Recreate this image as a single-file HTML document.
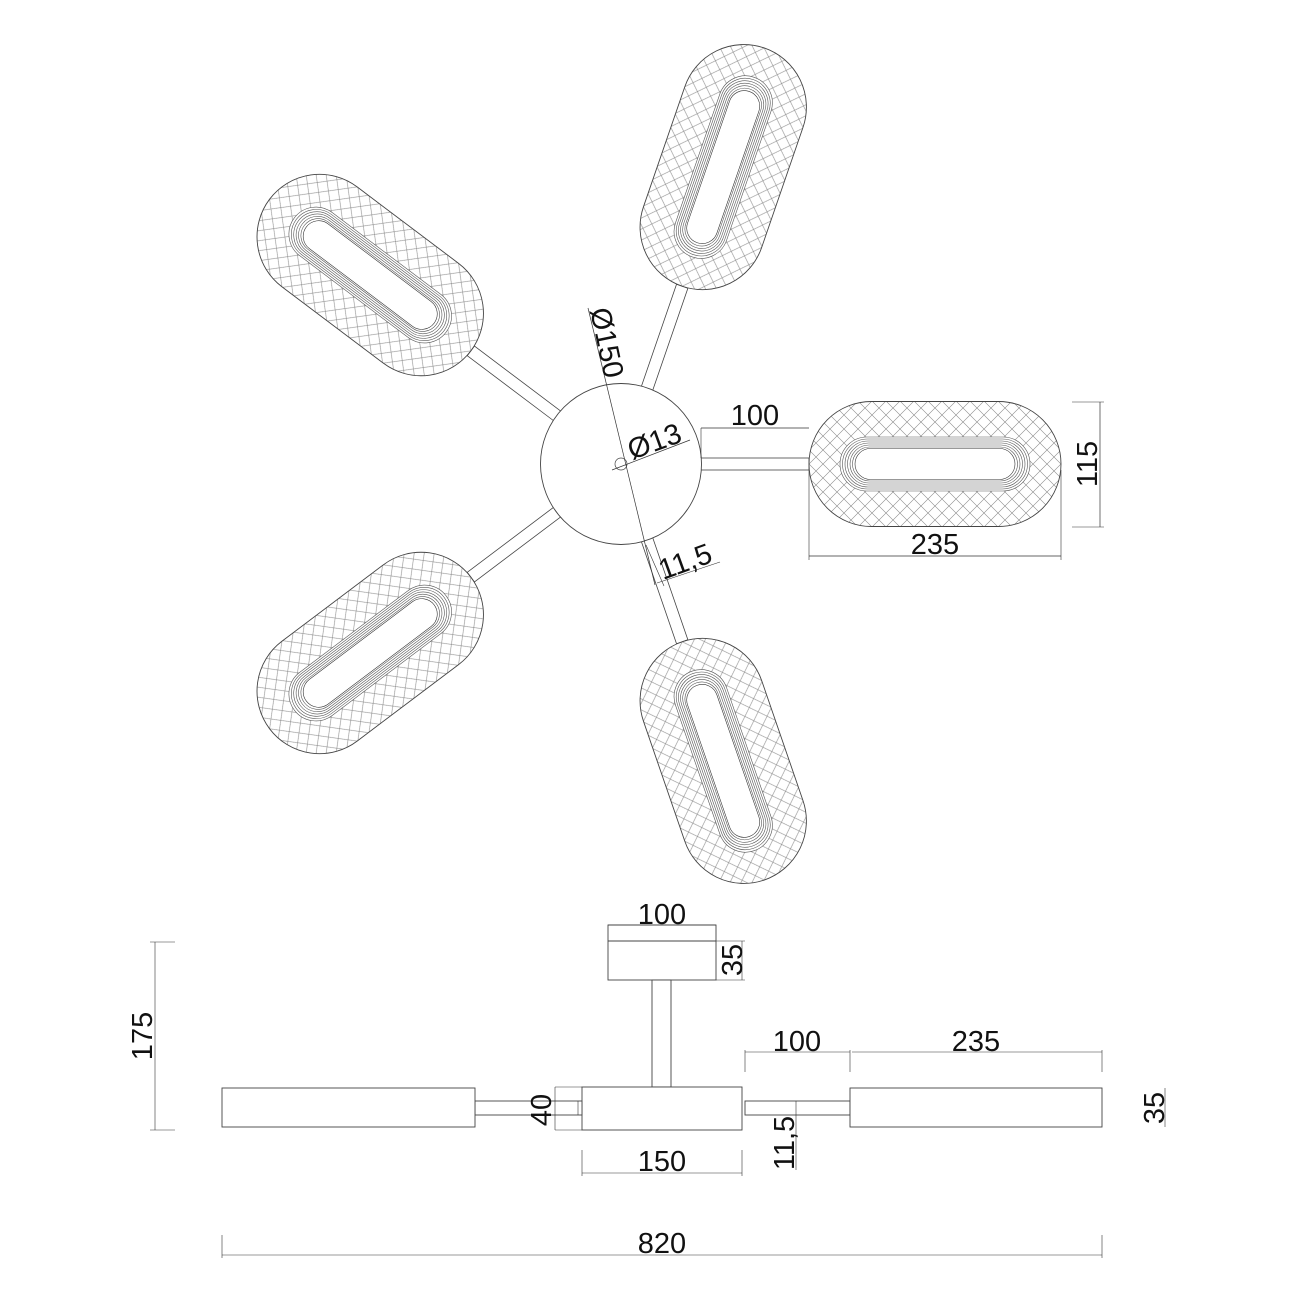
<!DOCTYPE html>
<html><head><meta charset="utf-8"><style>
html,body{margin:0;padding:0;background:#fff;}
svg{display:block;}
text{font-family:"Liberation Sans",sans-serif;font-size:29px;fill:#111;}
</style></head><body>
<svg width="1300" height="1300" viewBox="0 0 1300 1300" xmlns="http://www.w3.org/2000/svg">
<defs>
<pattern id="hatch" patternUnits="userSpaceOnUse" width="14" height="14">
<path d="M0,0 L14,14 M14,0 L0,14" stroke="#888" stroke-width="0.6" fill="none"/>
</pattern>
<g id="shade">
<rect x="-126" y="-62.5" width="252" height="125" rx="62.5" fill="url(#hatch)" stroke="#444" stroke-width="0.9"/>
<rect x="-95" y="-27" width="190" height="54" rx="27" fill="#fff" stroke="none"/>
<g fill="none" stroke="#555" stroke-width="0.6">
<rect x="-95" y="-27" width="190" height="54" rx="27"/>
<rect x="-92.5" y="-25" width="185" height="50" rx="25"/>
<rect x="-90" y="-23" width="180" height="46" rx="23"/>
<rect x="-87.5" y="-21" width="175" height="42" rx="21"/>
<rect x="-85" y="-19" width="170" height="38" rx="19"/>
<rect x="-82.5" y="-17" width="165" height="34" rx="17"/>
<rect x="-80" y="-15.5" width="160" height="31" rx="15.5" stroke="#333"/>
</g>
</g>
<g id="arm">
<rect x="79" y="-6" width="109" height="12" fill="#fff" stroke="#444" stroke-width="0.8"/>
<use href="#shade" x="314" y="0"/>
</g>
</defs>

<g transform="translate(621,464)">
<use href="#arm" transform="rotate(0)"/>
<use href="#arm" transform="rotate(-71)"/>
<use href="#arm" transform="rotate(-143)"/>
<use href="#arm" transform="rotate(143)"/>
<use href="#arm" transform="rotate(71)"/>
<circle cx="0" cy="0" r="80.5" fill="#fff" stroke="#444" stroke-width="0.9"/>
<circle cx="0" cy="0" r="6" fill="none" stroke="#444" stroke-width="0.7"/>
</g>
<line x1="588" y1="308" x2="655" y2="585" stroke="#333" stroke-width="0.7"/>
<text transform="translate(590,310) rotate(78)">Ø150</text>
<line x1="612" y1="470" x2="690" y2="440" stroke="#333" stroke-width="0.7"/>
<text transform="translate(632,460) rotate(-20)">Ø13</text>
<line x1="646" y1="545" x2="664" y2="586" stroke="#333" stroke-width="0.6"/>
<line x1="657" y1="583" x2="720" y2="562" stroke="#333" stroke-width="0.6"/>
<text transform="translate(663,580) rotate(-20)">11,5</text>
<line x1="701" y1="428" x2="809" y2="428" stroke="#333" stroke-width="0.7"/>
<line x1="701" y1="428" x2="701" y2="458" stroke="#333" stroke-width="0.6"/>
<text x="755" y="425" text-anchor="middle">100</text>
<line x1="809" y1="556" x2="1061" y2="556" stroke="#333" stroke-width="0.7"/>
<line x1="809" y1="470" x2="809" y2="560" stroke="#333" stroke-width="0.6"/>
<line x1="1061" y1="470" x2="1061" y2="560" stroke="#333" stroke-width="0.6"/>
<text x="935" y="554" text-anchor="middle">235</text>
<line x1="1100" y1="402" x2="1100" y2="527" stroke="#333" stroke-width="0.7"/>
<line x1="1072" y1="402" x2="1104" y2="402" stroke="#333" stroke-width="0.6"/>
<line x1="1072" y1="527" x2="1104" y2="527" stroke="#333" stroke-width="0.6"/>
<text transform="translate(1097,464) rotate(-90)" text-anchor="middle">115</text>

<g fill="#fff" stroke="#444" stroke-width="0.9">
<rect x="608" y="925" width="108" height="55"/>
<rect x="652" y="980" width="19" height="107"/>
<rect x="582" y="1087" width="160" height="43"/>
<rect x="475" y="1101" width="107" height="14"/>
<rect x="745" y="1101" width="105" height="14"/>
<rect x="222" y="1088" width="253" height="39"/>
<rect x="850" y="1088" width="252" height="39"/>
</g>
<line x1="608" y1="941" x2="716" y2="941" stroke="#444" stroke-width="0.9"/>
<g stroke="#333" stroke-width="0.6" fill="none">
<line x1="608" y1="925" x2="716" y2="925"/>
<line x1="742" y1="941" x2="742" y2="980"/>
<line x1="716" y1="941" x2="745" y2="941"/><line x1="716" y1="980" x2="745" y2="980"/>
<line x1="155" y1="942" x2="155" y2="1130"/>
<line x1="150" y1="942" x2="175" y2="942"/><line x1="150" y1="1130" x2="175" y2="1130"/>
<line x1="745" y1="1052" x2="850" y2="1052"/>
<line x1="852" y1="1052" x2="1102" y2="1052"/>
<line x1="745" y1="1050" x2="745" y2="1072"/>
<line x1="850" y1="1050" x2="850" y2="1072"/>
<line x1="1102" y1="1050" x2="1102" y2="1072"/>
<line x1="1165" y1="1088" x2="1165" y2="1127"/>
<line x1="555" y1="1087" x2="555" y2="1130"/>
<line x1="555" y1="1087" x2="582" y2="1087"/><line x1="555" y1="1130" x2="582" y2="1130"/>
<line x1="578" y1="1101" x2="578" y2="1115"/>
<line x1="582" y1="1173" x2="742" y2="1173"/>
<line x1="582" y1="1150" x2="582" y2="1176"/><line x1="742" y1="1150" x2="742" y2="1176"/>
<line x1="796" y1="1101" x2="796" y2="1170"/>
<line x1="222" y1="1255" x2="1102" y2="1255"/>
<line x1="222" y1="1235" x2="222" y2="1258"/><line x1="1102" y1="1235" x2="1102" y2="1258"/>
</g>
<text x="662" y="924" text-anchor="middle">100</text>
<text transform="translate(742,960) rotate(-90)" text-anchor="middle">35</text>
<text transform="translate(152,1036) rotate(-90)" text-anchor="middle">175</text>
<text x="797" y="1051" text-anchor="middle">100</text>
<text x="976" y="1051" text-anchor="middle">235</text>
<text transform="translate(1164,1108) rotate(-90)" text-anchor="middle">35</text>
<text transform="translate(551,1110) rotate(-90)" text-anchor="middle">40</text>
<text x="662" y="1171" text-anchor="middle">150</text>
<text transform="translate(794,1143) rotate(-90)" text-anchor="middle">11,5</text>
<text x="662" y="1253" text-anchor="middle">820</text>
</svg>
</body></html>
